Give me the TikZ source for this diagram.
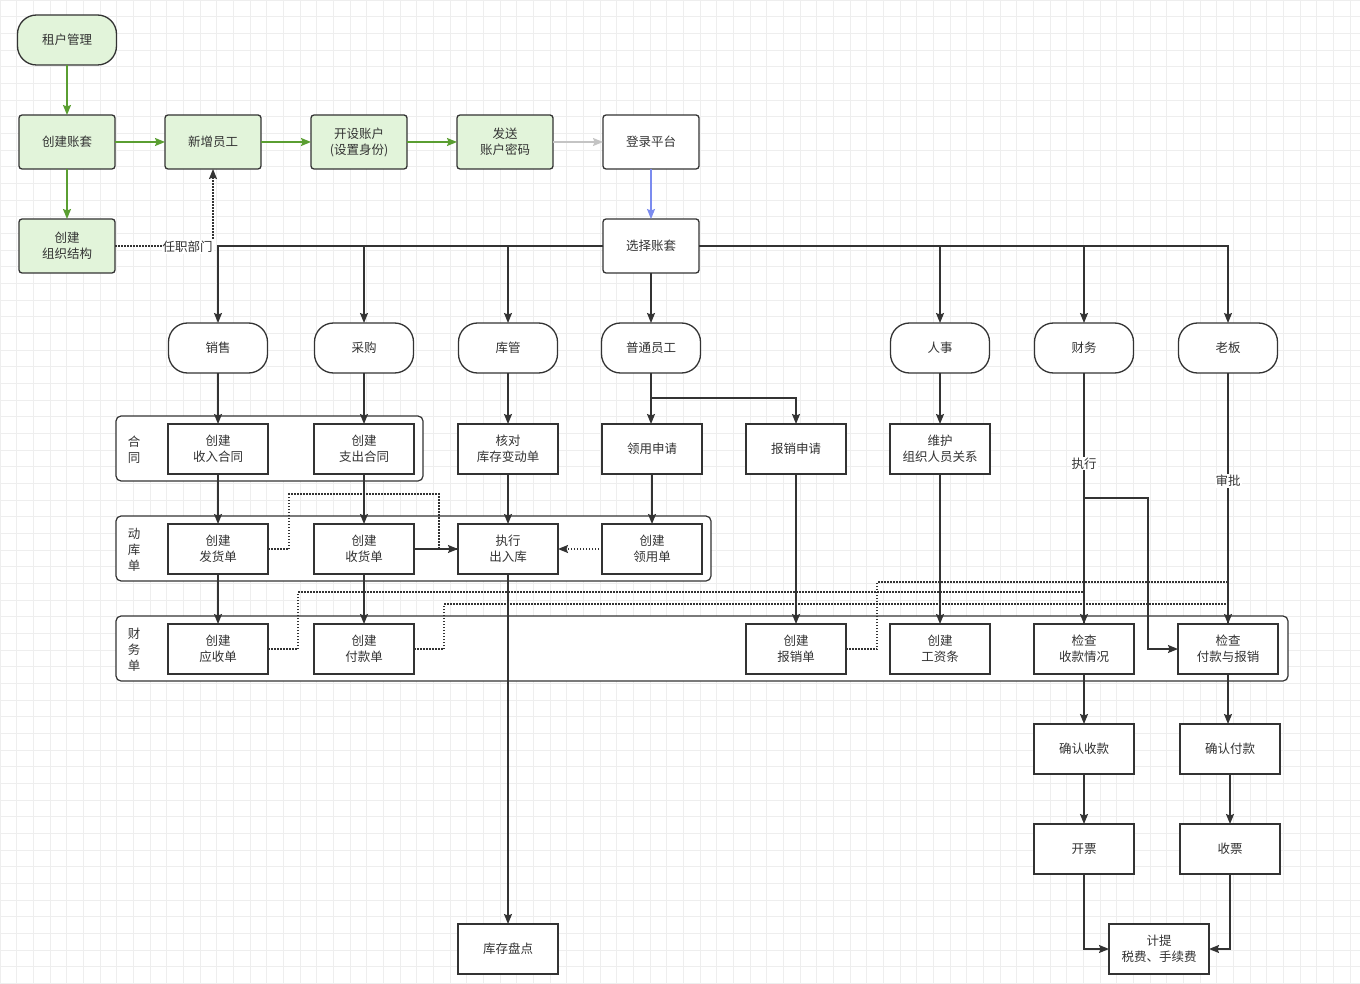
\documentclass[tikz,border=0pt]{standalone}
\usepackage{fontspec}
\newfontfamily\cjk{Noto Sans CJK SC}
\usetikzlibrary{arrows.meta,calc}
\definecolor{gfill}{HTML}{E2F4DA}
\definecolor{bd}{HTML}{333333}
\definecolor{txt}{HTML}{333333}
\definecolor{gline}{HTML}{5A9E31}
\definecolor{bline}{HTML}{7B8BEF}
\definecolor{grayline}{HTML}{C4C4C4}
\definecolor{gridc}{HTML}{EEEEEE}
\tikzset{
  base/.style={text=txt, align=center, inner sep=2pt, outer sep=0pt},
  gbox/.style={base, rectangle, rounded corners=3, fill=gfill, draw=bd, line width=1.3, minimum width=96, minimum height=54},
  wbox/.style={base, rectangle, rounded corners=3, fill=white, draw=bd, line width=1.3, minimum width=96, minimum height=54},
  gpill/.style={base, rectangle, rounded corners=19, fill=gfill, draw=bd, line width=1.3, minimum width=99, minimum height=50},
  pill/.style={base, rectangle, rounded corners=19, fill=white, draw=bd, line width=1.3, minimum width=99, minimum height=50},
  sbox/.style={base, rectangle, fill=white, draw=bd, line width=1.6, minimum width=100, minimum height=50},
  grp/.style={draw=bd, fill=white, line width=1.2, rounded corners=5},
  glbl/.style={base, inner sep=0pt},
  conn/.style={draw=bd, line width=1.3, -{Stealth[length=10pt,width=8pt,inset=1.5pt]}},
  plain/.style={draw=bd, line width=1.3},
  gconn/.style={draw=gline, line width=1.3, -{Stealth[length=10pt,width=8pt,inset=1.5pt]}},
  dotl/.style={draw=bd, line width=1.2, dash pattern=on 1.5pt off 1.5pt},
  dtip/.style={-{Stealth[length=10pt,width=8pt,inset=1.5pt,sep=0pt]}},
  lbl/.style={base, fill=white, inner sep=1pt},
}
\begin{document}
\begin{tikzpicture}[x=1pt,y=-1pt,font={\cjk\fontsize{12.5}{16}\selectfont}]
\fill[white] (0,0) rectangle (1360,984);
\useasboundingbox (0,0) rectangle (1360,984);
\foreach \i in {0,...,81} \draw[gridc, line width=0.8] (\i*16.6667,0) -- (\i*16.6667,984);
\foreach \j in {0,...,59} \draw[gridc, line width=0.8] (0,\j*16.6667) -- (1360,\j*16.6667);

% groups
\draw[grp] (116,416) rectangle (423,481);
\draw[grp] (116,516) rectangle (711,581);
\draw[grp] (116,616) rectangle (1288,681);
\node[glbl] (g1) at (134,450) {合\\同};
\node[glbl] (g2) at (134,550) {动\\库\\单};
\node[glbl] (g3) at (134,650) {财\\务\\单};

% top
\node[gpill] (zh) at (67,40) {租户管理};
\node[gbox] (cjzt) at (67,142) {创建账套};
\node[gbox] (xz) at (213,142) {新增员工};
\node[gbox] (ks) at (359,142) {开设账户\\(设置身份)};
\node[gbox] (fs) at (505,142) {发送\\账户密码};
\node[wbox] (dl) at (651,142) {登录平台};
\node[gbox] (zz) at (67,246) {创建\\组织结构};
\node[wbox] (xzt) at (651,246) {选择账套};

% roles
\node[pill] (xs) at (218,348) {销售};
\node[pill] (cg) at (364,348) {采购};
\node[pill] (kg) at (508,348) {库管};
\node[pill] (pt) at (651,348) {普通员工};
\node[pill] (rs) at (940,348) {人事};
\node[pill] (cw) at (1084,348) {财务};
\node[pill] (lb) at (1228,348) {老板};

% row 3
\node[sbox] (srht) at (218,449) {创建\\收入合同};
\node[sbox] (zcht) at (364,449) {创建\\支出合同};
\node[sbox] (hd) at (508,449) {核对\\库存变动单};
\node[sbox] (lysq) at (652,449) {领用申请};
\node[sbox] (bxsq) at (796,449) {报销申请};
\node[sbox] (wh) at (940,449) {维护\\组织人员关系};

% row 4
\node[sbox] (fhd) at (218,549) {创建\\发货单};
\node[sbox] (shd) at (364,549) {创建\\收货单};
\node[sbox] (zx) at (508,549) {执行\\出入库};
\node[sbox] (lyd) at (652,549) {创建\\领用单};

% row 5
\node[sbox] (ysd) at (218,649) {创建\\应收单};
\node[sbox] (fkd) at (364,649) {创建\\付款单};
\node[sbox] (bxd) at (796,649) {创建\\报销单};
\node[sbox] (gzt) at (940,649) {创建\\工资条};
\node[sbox] (jcsk) at (1084,649) {检查\\收款情况};
\node[sbox] (jcfk) at (1228,649) {检查\\付款与报销};

% lower
\node[sbox] (qrsk) at (1084,749) {确认收款};
\node[sbox] (qrfk) at (1230,749) {确认付款};
\node[sbox] (kp) at (1084,849) {开票};
\node[sbox] (sp) at (1230,849) {收票};
\node[sbox] (jt) at (1159,949) {计提\\税费、手续费};
\node[sbox] (pd) at (508,949) {库存盘点};

% top connectors
\draw[gconn] (zh) -- (cjzt);
\draw[gconn] (cjzt) -- (xz);
\draw[gconn] (xz) -- (ks);
\draw[gconn] (ks) -- (fs);
\draw[gconn] (cjzt) -- (zz);
\draw[draw=grayline, line width=1.3, -{Stealth[length=10pt,width=8pt,inset=1.5pt]}] (fs) -- (dl);
\draw[draw=bline, line width=1.3, -{Stealth[length=10pt,width=8pt,inset=1.5pt]}] (dl) -- (xzt);
\draw[dotl, dtip] (zz.east) -| node[lbl, pos=0.37, yshift=-1pt] (rz) {任职部门} (xz.south);

% select -> roles
\draw[conn] (xzt.west) -| (xs.north);
\draw[conn] (xzt.west) -| (cg.north);
\draw[conn] (xzt.west) -| (kg.north);
\draw[conn] (xzt) -- (pt);
\draw[conn] (xzt.east) -| (rs.north);
\draw[conn] (xzt.east) -| (cw.north);
\draw[conn] (xzt.east) -| (lb.north);

% roles -> row3
\draw[conn] (xs) -- (srht);
\draw[conn] (cg) -- (zcht);
\draw[conn] (kg) -- (hd);
\draw[conn] (pt.south) -- (lysq.north -| pt.south);
\draw[conn] (pt.south) -- ++(0,25) -| (bxsq.north);
\draw[conn] (rs) -- (wh);

% row3 -> row4
\draw[conn] (srht) -- (fhd);
\draw[conn] (zcht) -- (shd);
\draw[conn] (hd) -- (zx);
\draw[conn] (lysq) -- (lyd);
\draw[conn] (shd) -- (zx);
\draw[dotl] (fhd.east) -- ++(21,0) |- (439,494) -- (439,549) -- (zx.west);
\draw[dotl, dtip] (lyd) -- (zx);

% row4 -> row5
\draw[conn] (fhd) -- (ysd);
\draw[conn] (shd) -- (fkd);
\draw[conn] (zx) -- (pd);
\draw[conn] (bxsq) -- (bxd);
\draw[conn] (wh) -- (gzt);

% dotted finance
\draw[dotl] (ysd.east) -- ++(30,0) |- (1084,592) -- (jcsk.north);
\draw[dotl] (fkd.east) -- ++(30,0) |- (1228,604) -- (jcfk.north);
\draw[dotl] (bxd.east) -- ++(31,0) |- (1228,582) -- (jcfk.north);

% finance & boss
\draw[conn] (cw) -- node[lbl, pos=0.36] (zxl) {执行} (jcsk);
\draw[conn] (lb) -- node[lbl, pos=0.43] (spl) {审批} (jcfk);
\coordinate (fb) at (1084,498);
\draw[conn] (fb) -- (1148,498) |- (jcfk.west);

% lower chain
\draw[conn] (jcsk) -- (qrsk);
\draw[conn] (jcfk.south) -- (jcfk.south |- qrfk.north);
\draw[conn] (qrsk) -- (kp);
\draw[conn] (qrfk) -- (sp);
\draw[conn] (kp.south) |- (jt.west);
\draw[conn] (sp.south) |- (jt.east);
\end{tikzpicture}
\end{document}
